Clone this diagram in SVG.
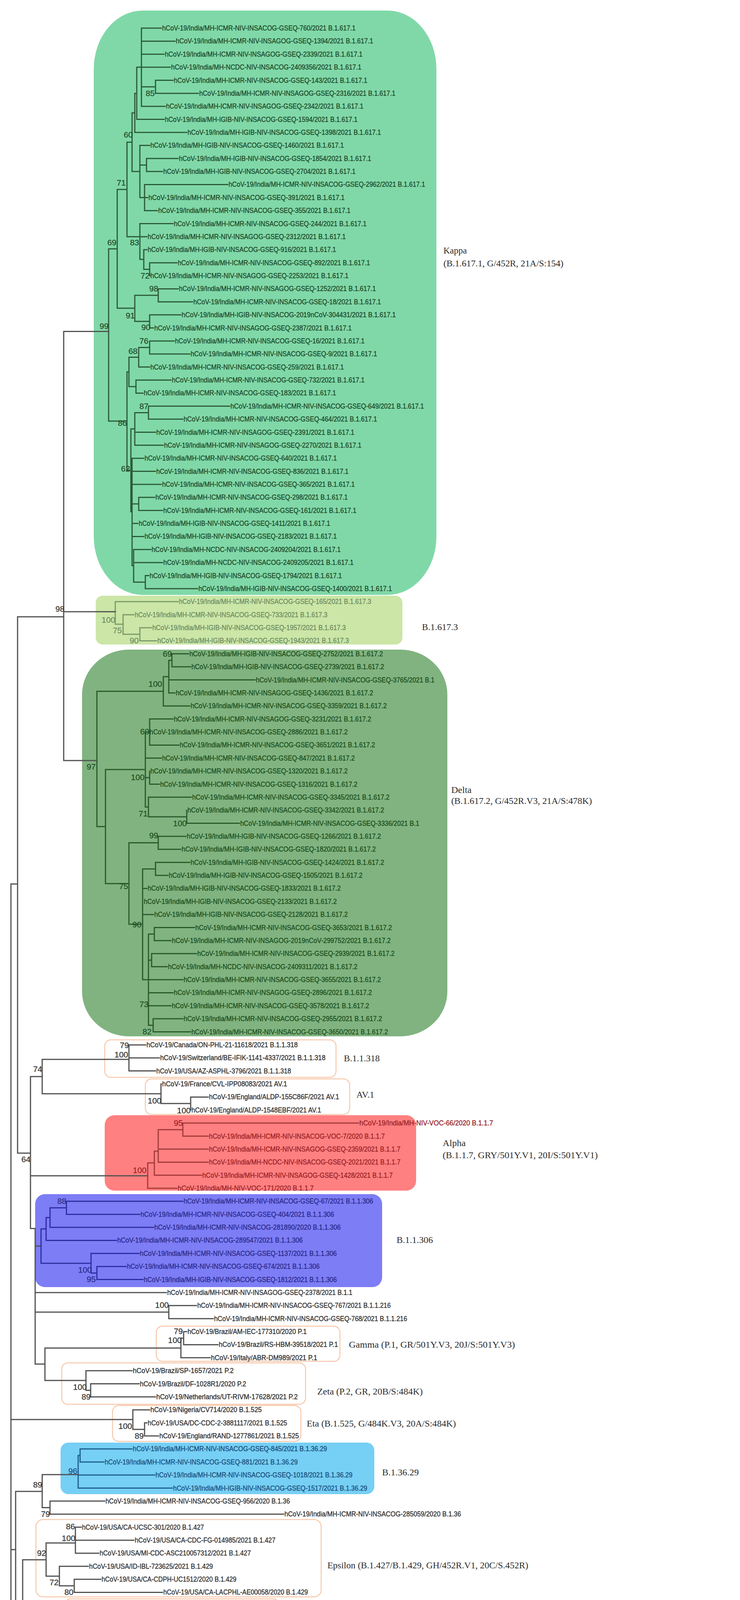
<svg xmlns="http://www.w3.org/2000/svg" width="1894" height="4640" viewBox="0 0 1894 4640">
<style>
text{font-family:'Liberation Sans',Arial,sans-serif}
.lf text{font-size:18px;stroke-width:0.45px}
.cl1 text{font-family:'Liberation Serif','Times New Roman',serif;font-size:23px;fill:#2b2b2b}
.bs{font-size:21px}
.bs text{stroke-width:0.3px}
.tk{fill:#1f4a2b;stroke:#1f4a2b}.t3{fill:#6f8d64;stroke:#6f8d64}.td{fill:#1d4f1d;stroke:#1d4f1d}.ta{fill:#9a2328;stroke:#9a2328}.tb{fill:#2b2b8a;stroke:#2b2b8a}.tc{fill:#1b4f7e;stroke:#1b4f7e}.to{fill:#333;stroke:#333}
path{fill:none;stroke-width:3;stroke-linecap:square}
.ol{stroke:#505050}.kl{stroke:#2c5a38}.gl{stroke:#7d9a6a}.dl{stroke:#2a5a2a}.al{stroke:#a33a3a}.bl{stroke:#2e2ea0}.cyl{stroke:#1e5f8e}
.ob{fill:none;stroke:#f7c8ab;stroke-width:2.5}
</style>
<rect width="1894" height="4640" fill="#fff"/>
<g id="clade-boxes">
<rect id="box-kappa" x="240" y="27" width="877" height="1496" rx="125" ry="150" fill="#80d8a8"/>
<rect id="box-b16173" x="245" y="1525" width="785" height="125" rx="18" fill="#cbe6a6"/>
<rect id="box-delta" x="210" y="1663" width="935" height="990" rx="120" ry="115" fill="#80b380"/>
<rect id="box-b11318" class="ob" x="268" y="2662" width="592" height="96" rx="16"/>
<rect id="box-av1" class="ob" x="372" y="2762" width="523" height="91" rx="16"/>
<rect id="box-alpha" x="268" y="2855" width="797" height="193" rx="25" fill="#ff8080"/>
<rect id="box-b11306" x="90" y="3057" width="888" height="238" rx="25" fill="#7d7df6"/>
<rect id="box-gamma" class="ob" x="400" y="3395" width="470" height="90" rx="16"/>
<rect id="box-zeta" class="ob" x="158" y="3489" width="624" height="106" rx="16"/>
<rect id="box-eta" class="ob" x="288" y="3598" width="482" height="92" rx="16"/>
<rect id="box-b13629" x="155" y="3693" width="803" height="132" rx="20" fill="#76cff4"/>
<rect id="box-epsilon" class="ob" x="92" y="3890" width="730" height="198" rx="18"/>
<rect id="box-beta" class="ob" x="165" y="4093" width="550" height="97" rx="16"/>
<rect id="box-iota" class="ob" x="98" y="4193" width="710" height="300" rx="18"/>
</g>
<g id="connectors">
<path class="kl" d="M362 72V272.2M362 72H413M362 105.4H448M362 138.7H420M362 172.1H436M362 272.2H423M362 222.2H398M398 205.5V238.9M398 205.5H443M398 238.9H508M350 172.1V305.6M350 172.1H362M350 305.6H420M345 238.9V339M345 238.9H350M345 339H478M375 405.7V439.1M375 405.7H456M375 439.1H416M370 472.4V539.2M370 472.4H583M370 505.8H378M370 539.2H403M358 372.3V505.8M358 372.3H383M358 422.4H375M358 505.8H370M338 289V439.1M338 289H345M338 439.1H358M325 364V605.9M325 364H338M325 605.9H358M358 572.6V664M358 572.6H443M358 605.9H376M358 664H368M368 639.3V689.4M368 639.3H376M368 689.4H383M383 672.7V706M383 672.7H453M383 706H384M300 485V789M300 485H325M300 789H345M345 756.1V822.8M345 756.1H405M345 822.8H383M405 739.4V772.8M405 739.4H456M405 772.8H493M383 806.1V839.5M383 806.1H463M383 839.5H393M278 637V1078M278 637H300M278 1078H325M325 952V1204M325 952H330M325 1204H335M330 914.6V989.7M330 914.6H355M330 989.7H348M355 889.6V939.6M355 889.6H383M355 939.6H383M383 872.9V906.3M383 872.9H446M383 906.3H486M348 973V1006.4M348 973H438M348 1006.4H366M335 1098V1310M335 1098H345M335 1310H338M345 1056.4V1139.8M345 1056.4H380M345 1106.5H398M345 1139.8H418M380 1039.7V1073.1M380 1039.7H588M380 1073.1H468M338 1173.2V1448M338 1173.2H368M338 1206.6H398M338 1240H413M338 1290H355M338 1340.1H353M338 1373.4H368M338 1448H342M355 1273.3V1306.7M355 1273.3H396M355 1306.7H416M342 1406.8V1490.2M342 1406.8H386M342 1440.2H416M342 1490.2H372M372 1473.5V1506.9M372 1473.5H381M372 1506.9H506"/>
<path class="gl" d="M295 1540.3V1598M295 1540.3H456M295 1598H315M315 1573.7V1623.7M315 1573.7H343M315 1623.7H358M358 1607V1640.4M358 1607H388M358 1640.4H401"/>
<path class="dl" d="M440 1673.8V1707.1M440 1673.8H483M440 1707.1H488M432 1690.5V1773.9M432 1690.5H440M432 1740.5H653M432 1773.9H448M418 1732.2V1807.3M418 1732.2H432M418 1807.3H486M248 1769.7V2116M248 1769.7H418M248 2116H270M372 1874V2065.9M372 1874H383M372 1940.7H413M372 1990.8H383M372 2065.9H380M383 1840.6V1907.4M383 1840.6H443M383 1907.4H458M383 1974.1V2007.5M383 2007.5H408M380 2040.8V2090.9M380 2040.8H490M380 2090.9H478M478 2074.2V2107.6M478 2107.6H613M270 1970V2262M270 1970H372M270 2262H330M330 2157.6V2366M330 2157.6H405M330 2366H365M405 2141V2174.3M405 2141H476M405 2174.3H463M365 2224.4V2508M365 2224.4H398M365 2274.4H376M365 2341.2H393M365 2508H380M398 2207.7V2241.1M398 2207.7H486M398 2241.1H430M380 2391.2V2624.8M380 2391.2H395M380 2458H388M380 2508H468M380 2541.4H443M380 2574.8H438M380 2624.8H392M395 2374.5V2407.9M395 2374.5H498M395 2407.9H438M388 2441.3V2474.7M388 2441.3H503M388 2474.7H428M392 2608.1V2641.5M392 2608.1H468M392 2641.5H488"/>
<path class="ol" d="M163 848.5H278M163 848.5V1947M163 1566H295M163 1947H248M45 1579H163M45 1579V2952M28 2263H45M28 2263V4510.2M28 4510.2H95M330 2674.9V2741.6M330 2674.9H373M330 2708.2H408M330 2741.6H398M108 2712H330M488 2808.4V2841.7M488 2808.4H533M412 2775V2825M412 2775H413M412 2825H488M108 2800H412M108 2712V2800M78 2756H108M78 2756V3145M45 2952H78M78 3010H378M78 3145H90M90 3145V3492M90 3190H105M90 3308.9H426M432 3342.3V3375.7M432 3342.3H503M432 3375.7H546M90 3359H432M470 3409V3442.4M470 3409H478M470 3442.4H558M463 3425.7H470M463 3425.7V3475.8M463 3475.8H538M115 3451H463M232 3542.5V3575.9M232 3542.5H356M232 3575.9H398M220 3559.2H232M220 3509.1V3559.2M220 3509.1H338M115 3534H220M115 3451V3534M90 3492H115M370 3642.6V3676M370 3642.6H376M370 3676H406M340 3659.3H370M340 3609.2V3659.3M340 3609.2H383M28 3634H340M108 3775H200M128 3842.8V3876.2M128 3842.8H268M128 3876.2H726M108 3859.5H128M108 3775V3859.5M40 3818H108M193 3909.6V3976.3M193 3909.6H208M193 3942.9H343M193 3976.3H253M118 3950H193M190 4043V4076.4M190 4043H258M190 4076.4H416M152 4059.7H190M152 4009.7V4059.7M152 4009.7H226M118 4035H152M118 3950V4035M58 3993H118M305 4109.8V4143.2M305 4109.8H368M305 4143.2H348M225 4126.5H305M225 4126.5V4176.5M225 4176.5H341M75 4152H225M228 4209.9V4276.6M228 4209.9H323M228 4243.3H338M228 4276.6H308M130 4250H228M315 4310V4376.7M315 4310H343M315 4343.4H388M315 4376.7H343M208 4350H315M290 4443.5V4476.9M290 4443.5H398M290 4476.9H303M262 4462H290M262 4410.1V4462M262 4410.1H266M208 4435H262M208 4350V4435M130 4395H208M130 4250V4395M75 4322H130M75 4152V4322M58 4237H75M58 3993V4237M40 4116H58M40 3818V4116M28 3967H40"/>
<path class="al" d="M468 2875.1V2908.5M468 2875.1H918M468 2908.5H533M405 2892V2975.2M405 2892H468M405 2941.8H533M405 2975.2H533M395 2947V3008.6M395 2947H405M395 3008.6H516M378 2977V3042M378 2977H395M378 3042H453"/>
<path class="bl" d="M170 3075.3V3108.7M170 3075.3H468M170 3108.7H358M128 3092V3142.1M128 3092H170M128 3142.1H393M118 3117V3175.4M118 3117H128M118 3175.4H298M248 3242.2V3275.5M248 3242.2H323M248 3275.5H366M233 3208.8V3259M233 3208.8H356M233 3259H248M105 3146V3234M105 3146H118M105 3234H233"/>
<path class="cyl" d="M205 3709.3V3742.7M205 3709.3H338M205 3742.7H266M200 3726V3809.5M200 3726H205M200 3776.1H396M200 3809.5H441"/>
<path id="scale-bar" class="ol" d="M108 4552V4572M108 4562H195M195 4552V4572"/>
</g>
<g id="clade-kappa" class="lf tk">
<g id="n1"><text x="415" y="78" textLength="495" lengthAdjust="spacingAndGlyphs">hCoV-19/India/MH-ICMR-NIV-INSACOG-GSEQ-760/2021 B.1.617.1</text></g>
<g id="n2"><text x="450" y="111.4" textLength="505" lengthAdjust="spacingAndGlyphs">hCoV-19/India/MH-ICMR-NIV-INSAGOG-GSEQ-1394/2021 B.1.617.1</text></g>
<g id="n3"><text x="422" y="144.7" textLength="506" lengthAdjust="spacingAndGlyphs">hCoV-19/India/MH-ICMR-NIV-INSAGOG-GSEQ-2339/2021 B.1.617.1</text></g>
<g id="n4"><text x="438" y="178.1" textLength="487" lengthAdjust="spacingAndGlyphs">hCoV-19/India/MH-NCDC-NIV-INSACOG-2409356/2021 B.1.617.1</text></g>
<g id="n5"><text x="445" y="211.5" textLength="495" lengthAdjust="spacingAndGlyphs">hCoV-19/India/MH-ICMR-NIV-INSACOG-GSEQ-143/2021 B.1.617.1</text></g>
<g id="n6"><text x="510" y="244.9" textLength="502" lengthAdjust="spacingAndGlyphs">hCoV-19/India/MH-ICMR-NIV-INSAGOG-GSEQ-2316/2021 B.1.617.1</text></g>
<g id="n7"><text x="425" y="278.2" textLength="505" lengthAdjust="spacingAndGlyphs">hCoV-19/India/MH-ICMR-NIV-INSAGOG-GSEQ-2342/2021 B.1.617.1</text></g>
<g id="n8"><text x="422" y="311.6" textLength="493" lengthAdjust="spacingAndGlyphs">hCoV-19/India/MH-IGIB-NIV-INSACOG-GSEQ-1594/2021 B.1.617.1</text></g>
<g id="n9"><text x="480" y="345" textLength="495" lengthAdjust="spacingAndGlyphs">hCoV-19/India/MH-IGIB-NIV-INSACOG-GSEQ-1398/2021 B.1.617.1</text></g>
<g id="n10"><text x="385" y="378.3" textLength="495" lengthAdjust="spacingAndGlyphs">hCoV-19/India/MH-IGIB-NIV-INSACOG-GSEQ-1460/2021 B.1.617.1</text></g>
<g id="n11"><text x="458" y="411.7" textLength="492" lengthAdjust="spacingAndGlyphs">hCoV-19/India/MH-IGIB-NIV-INSACOG-GSEQ-1854/2021 B.1.617.1</text></g>
<g id="n12"><text x="418" y="445.1" textLength="492" lengthAdjust="spacingAndGlyphs">hCoV-19/India/MH-IGIB-NIV-INSACOG-GSEQ-2704/2021 B.1.617.1</text></g>
<g id="n13"><text x="585" y="478.4" textLength="503" lengthAdjust="spacingAndGlyphs">hCoV-19/India/MH-ICMR-NIV-INSACOG-GSEQ-2962/2021 B.1.617.1</text></g>
<g id="n14"><text x="380" y="511.8" textLength="502" lengthAdjust="spacingAndGlyphs">hCoV-19/India/MH-ICMR-NIV-INSACOG-GSEQ-391/2021 B.1.617.1</text></g>
<g id="n15"><text x="405" y="545.2" textLength="492" lengthAdjust="spacingAndGlyphs">hCoV-19/India/MH-ICMR-NIV-INSACOG-GSEQ-355/2021 B.1.617.1</text></g>
<g id="n16"><text x="445" y="578.6" textLength="493" lengthAdjust="spacingAndGlyphs">hCoV-19/India/MH-ICMR-NIV-INSACOG-GSEQ-244/2021 B.1.617.1</text></g>
<g id="n17"><text x="378" y="611.9" textLength="507" lengthAdjust="spacingAndGlyphs">hCoV-19/India/MH-ICMR-NIV-INSAGOG-GSEQ-2312/2021 B.1.617.1</text></g>
<g id="n18"><text x="378" y="645.3" textLength="482" lengthAdjust="spacingAndGlyphs">hCoV-19/India/MH-IGIB-NIV-INSACOG-GSEQ-916/2021 B.1.617.1</text></g>
<g id="n19"><text x="455" y="678.7" textLength="492" lengthAdjust="spacingAndGlyphs">hCoV-19/India/MH-ICMR-NIV-INSACOG-GSEQ-892/2021 B.1.617.1</text></g>
<g id="n20"><text x="385" y="712" textLength="507" lengthAdjust="spacingAndGlyphs">hCoV-19/India/MH-ICMR-NIV-INSAGOG-GSEQ-2253/2021 B.1.617.1</text></g>
<g id="n21"><text x="458" y="745.4" textLength="504" lengthAdjust="spacingAndGlyphs">hCoV-19/India/MH-ICMR-NIV-INSAGOG-GSEQ-1252/2021 B.1.617.1</text></g>
<g id="n22"><text x="495" y="778.8" textLength="480" lengthAdjust="spacingAndGlyphs">hCoV-19/India/MH-ICMR-NIV-INSACOG-GSEQ-18/2021 B.1.617.1</text></g>
<g id="n23"><text x="465" y="812.1" textLength="548" lengthAdjust="spacingAndGlyphs">hCoV-19/India/MH-IGIB-NIV-INSACOG-2019nCoV-304431/2021 B.1.617.1</text></g>
<g id="n24"><text x="395" y="845.5" textLength="505" lengthAdjust="spacingAndGlyphs">hCoV-19/India/MH-ICMR-NIV-INSAGOG-GSEQ-2387/2021 B.1.617.1</text></g>
<g id="n25"><text x="448" y="878.9" textLength="485" lengthAdjust="spacingAndGlyphs">hCoV-19/India/MH-ICMR-NIV-INSACOG-GSEQ-16/2021 B.1.617.1</text></g>
<g id="n26"><text x="488" y="912.3" textLength="477" lengthAdjust="spacingAndGlyphs">hCoV-19/India/MH-ICMR-NIV-INSACOG-GSEQ-9/2021 B.1.617.1</text></g>
<g id="n27"><text x="385" y="945.6" textLength="495" lengthAdjust="spacingAndGlyphs">hCoV-19/India/MH-ICMR-NIV-INSACOG-GSEQ-259/2021 B.1.617.1</text></g>
<g id="n28"><text x="440" y="979" textLength="493" lengthAdjust="spacingAndGlyphs">hCoV-19/India/MH-ICMR-NIV-INSACOG-GSEQ-732/2021 B.1.617.1</text></g>
<g id="n29"><text x="368" y="1012.4" textLength="492" lengthAdjust="spacingAndGlyphs">hCoV-19/India/MH-ICMR-NIV-INSACOG-GSEQ-183/2021 B.1.617.1</text></g>
<g id="n30"><text x="590" y="1045.7" textLength="495" lengthAdjust="spacingAndGlyphs">hCoV-19/India/MH-ICMR-NIV-INSACOG-GSEQ-649/2021 B.1.617.1</text></g>
<g id="n31"><text x="470" y="1079.1" textLength="495" lengthAdjust="spacingAndGlyphs">hCoV-19/India/MH-ICMR-NIV-INSACOG-GSEQ-464/2021 B.1.617.1</text></g>
<g id="n32"><text x="400" y="1112.5" textLength="507" lengthAdjust="spacingAndGlyphs">hCoV-19/India/MH-ICMR-NIV-INSAGOG-GSEQ-2391/2021 B.1.617.1</text></g>
<g id="n33"><text x="420" y="1145.8" textLength="505" lengthAdjust="spacingAndGlyphs">hCoV-19/India/MH-ICMR-NIV-INSAGOG-GSEQ-2270/2021 B.1.617.1</text></g>
<g id="n34"><text x="370" y="1179.2" textLength="492" lengthAdjust="spacingAndGlyphs">hCoV-19/India/MH-ICMR-NIV-INSACOG-GSEQ-640/2021 B.1.617.1</text></g>
<g id="n35"><text x="400" y="1212.6" textLength="492" lengthAdjust="spacingAndGlyphs">hCoV-19/India/MH-ICMR-NIV-INSACOG-GSEQ-836/2021 B.1.617.1</text></g>
<g id="n36"><text x="415" y="1246" textLength="493" lengthAdjust="spacingAndGlyphs">hCoV-19/India/MH-ICMR-NIV-INSACOG-GSEQ-365/2021 B.1.617.1</text></g>
<g id="n37"><text x="398" y="1279.3" textLength="492" lengthAdjust="spacingAndGlyphs">hCoV-19/India/MH-ICMR-NIV-INSACOG-GSEQ-298/2021 B.1.617.1</text></g>
<g id="n38"><text x="418" y="1312.7" textLength="494" lengthAdjust="spacingAndGlyphs">hCoV-19/India/MH-ICMR-NIV-INSACOG-GSEQ-161/2021 B.1.617.1</text></g>
<g id="n39"><text x="355" y="1346.1" textLength="490" lengthAdjust="spacingAndGlyphs">hCoV-19/India/MH-IGIB-NIV-INSACOG-GSEQ-1411/2021 B.1.617.1</text></g>
<g id="n40"><text x="370" y="1379.4" textLength="492" lengthAdjust="spacingAndGlyphs">hCoV-19/India/MH-IGIB-NIV-INSACOG-GSEQ-2183/2021 B.1.617.1</text></g>
<g id="n41"><text x="388" y="1412.8" textLength="484" lengthAdjust="spacingAndGlyphs">hCoV-19/India/MH-NCDC-NIV-INSACOG-2409204/2021 B.1.617.1</text></g>
<g id="n42"><text x="418" y="1446.2" textLength="487" lengthAdjust="spacingAndGlyphs">hCoV-19/India/MH-NCDC-NIV-INSACOG-2409205/2021 B.1.617.1</text></g>
<g id="n43"><text x="383" y="1479.5" textLength="492" lengthAdjust="spacingAndGlyphs">hCoV-19/India/MH-IGIB-NIV-INSACOG-GSEQ-1794/2021 B.1.617.1</text></g>
<g id="n44"><text x="508" y="1512.9" textLength="495" lengthAdjust="spacingAndGlyphs">hCoV-19/India/MH-IGIB-NIV-INSACOG-GSEQ-1400/2021 B.1.617.1</text></g>
</g>
<g id="clade-b16173" class="lf t3">
<g id="n45"><text x="458" y="1546.3" textLength="492" lengthAdjust="spacingAndGlyphs">hCoV-19/India/MH-ICMR-NIV-INSACOG-GSEQ-165/2021 B.1.617.3</text></g>
<g id="n46"><text x="345" y="1579.7" textLength="493" lengthAdjust="spacingAndGlyphs">hCoV-19/India/MH-ICMR-NIV-INSACOG-GSEQ-733/2021 B.1.617.3</text></g>
<g id="n47"><text x="390" y="1613" textLength="495" lengthAdjust="spacingAndGlyphs">hCoV-19/India/MH-IGIB-NIV-INSACOG-GSEQ-1957/2021 B.1.617.3</text></g>
<g id="n48"><text x="403" y="1646.4" textLength="490" lengthAdjust="spacingAndGlyphs">hCoV-19/India/MH-IGIB-NIV-INSACOG-GSEQ-1943/2021 B.1.617.3</text></g>
</g>
<g id="clade-delta" class="lf td">
<g id="n49"><text x="485" y="1679.8" textLength="495" lengthAdjust="spacingAndGlyphs">hCoV-19/India/MH-IGIB-NIV-INSACOG-GSEQ-2752/2021 B.1.617.2</text></g>
<g id="n50"><text x="490" y="1713.1" textLength="493" lengthAdjust="spacingAndGlyphs">hCoV-19/India/MH-IGIB-NIV-INSACOG-GSEQ-2739/2021 B.1.617.2</text></g>
<g id="n51"><text x="655" y="1746.5" textLength="457" lengthAdjust="spacingAndGlyphs">hCoV-19/India/MH-ICMR-NIV-INSACOG-GSEQ-3765/2021 B.1</text></g>
<g id="n52"><text x="450" y="1779.9" textLength="505" lengthAdjust="spacingAndGlyphs">hCoV-19/India/MH-ICMR-NIV-INSAGOG-GSEQ-1436/2021 B.1.617.2</text></g>
<g id="n53"><text x="488" y="1813.3" textLength="502" lengthAdjust="spacingAndGlyphs">hCoV-19/India/MH-ICMR-NIV-INSACOG-GSEQ-3359/2021 B.1.617.2</text></g>
<g id="n54"><text x="445" y="1846.6" textLength="505" lengthAdjust="spacingAndGlyphs">hCoV-19/India/MH-ICMR-NIV-INSAGOG-GSEQ-3231/2021 B.1.617.2</text></g>
<g id="n55"><text x="383" y="1880" textLength="507" lengthAdjust="spacingAndGlyphs">hCoV-19/India/MH-ICMR-NIV-INSACOG-GSEQ-2886/2021 B.1.617.2</text></g>
<g id="n56"><text x="460" y="1913.4" textLength="500" lengthAdjust="spacingAndGlyphs">hCoV-19/India/MH-ICMR-NIV-INSACOG-GSEQ-3651/2021 B.1.617.2</text></g>
<g id="n57"><text x="415" y="1946.7" textLength="493" lengthAdjust="spacingAndGlyphs">hCoV-19/India/MH-ICMR-NIV-INSACOG-GSEQ-847/2021 B.1.617.2</text></g>
<g id="n58"><text x="385" y="1980.1" textLength="505" lengthAdjust="spacingAndGlyphs">hCoV-19/India/MH-ICMR-NIV-INSACOG-GSEQ-1320/2021 B.1.617.2</text></g>
<g id="n59"><text x="410" y="2013.5" textLength="505" lengthAdjust="spacingAndGlyphs">hCoV-19/India/MH-ICMR-NIV-INSACOG-GSEQ-1316/2021 B.1.617.2</text></g>
<g id="n60"><text x="492" y="2046.8" textLength="505" lengthAdjust="spacingAndGlyphs">hCoV-19/India/MH-ICMR-NIV-INSACOG-GSEQ-3345/2021 B.1.617.2</text></g>
<g id="n61"><text x="480" y="2080.2" textLength="503" lengthAdjust="spacingAndGlyphs">hCoV-19/India/MH-ICMR-NIV-INSACOG-GSEQ-3342/2021 B.1.617.2</text></g>
<g id="n62"><text x="615" y="2113.6" textLength="458" lengthAdjust="spacingAndGlyphs">hCoV-19/India/MH-ICMR-NIV-INSACOG-GSEQ-3336/2021 B.1</text></g>
<g id="n63"><text x="478" y="2147" textLength="497" lengthAdjust="spacingAndGlyphs">hCoV-19/India/MH-IGIB-NIV-INSACOG-GSEQ-1266/2021 B.1.617.2</text></g>
<g id="n64"><text x="465" y="2180.3" textLength="497" lengthAdjust="spacingAndGlyphs">hCoV-19/India/MH-IGIB-NIV-INSACOG-GSEQ-1820/2021 B.1.617.2</text></g>
<g id="n65"><text x="488" y="2213.7" textLength="495" lengthAdjust="spacingAndGlyphs">hCoV-19/India/MH-IGIB-NIV-INSACOG-GSEQ-1424/2021 B.1.617.2</text></g>
<g id="n66"><text x="432" y="2247.1" textLength="496" lengthAdjust="spacingAndGlyphs">hCoV-19/India/MH-IGIB-NIV-INSACOG-GSEQ-1505/2021 B.1.617.2</text></g>
<g id="n67"><text x="378" y="2280.4" textLength="494" lengthAdjust="spacingAndGlyphs">hCoV-19/India/MH-IGIB-NIV-INSACOG-GSEQ-1833/2021 B.1.617.2</text></g>
<g id="n68"><text x="368" y="2313.8" textLength="494" lengthAdjust="spacingAndGlyphs">hCoV-19/India/MH-IGIB-NIV-INSACOG-GSEQ-2133/2021 B.1.617.2</text></g>
<g id="n69"><text x="395" y="2347.2" textLength="495" lengthAdjust="spacingAndGlyphs">hCoV-19/India/MH-IGIB-NIV-INSACOG-GSEQ-2128/2021 B.1.617.2</text></g>
<g id="n70"><text x="500" y="2380.5" textLength="503" lengthAdjust="spacingAndGlyphs">hCoV-19/India/MH-ICMR-NIV-INSACOG-GSEQ-3653/2021 B.1.617.2</text></g>
<g id="n71"><text x="440" y="2413.9" textLength="560" lengthAdjust="spacingAndGlyphs">hCoV-19/India/MH-ICMR-NIV-INSAGOG-2019nCoV-299752/2021 B.1.617.2</text></g>
<g id="n72"><text x="505" y="2447.3" textLength="505" lengthAdjust="spacingAndGlyphs">hCoV-19/India/MH-ICMR-NIV-INSACOG-GSEQ-2939/2021 B.1.617.2</text></g>
<g id="n73"><text x="430" y="2480.7" textLength="485" lengthAdjust="spacingAndGlyphs">hCoV-19/India/MH-NCDC-NIV-INSACOG-2409311/2021 B.1.617.2</text></g>
<g id="n74"><text x="470" y="2514" textLength="505" lengthAdjust="spacingAndGlyphs">hCoV-19/India/MH-ICMR-NIV-INSACOG-GSEQ-3655/2021 B.1.617.2</text></g>
<g id="n75"><text x="445" y="2547.4" textLength="507" lengthAdjust="spacingAndGlyphs">hCoV-19/India/MH-ICMR-NIV-INSAGOG-GSEQ-2896/2021 B.1.617.2</text></g>
<g id="n76"><text x="440" y="2580.8" textLength="505" lengthAdjust="spacingAndGlyphs">hCoV-19/India/MH-ICMR-NIV-INSACOG-GSEQ-3578/2021 B.1.617.2</text></g>
<g id="n77"><text x="470" y="2614.1" textLength="508" lengthAdjust="spacingAndGlyphs">hCoV-19/India/MH-ICMR-NIV-INSACOG-GSEQ-2955/2021 B.1.617.2</text></g>
<g id="n78"><text x="490" y="2647.5" textLength="503" lengthAdjust="spacingAndGlyphs">hCoV-19/India/MH-ICMR-NIV-INSACOG-GSEQ-3650/2021 B.1.617.2</text></g>
</g>
<g id="clade-b11318-av1" class="lf to">
<g id="n79"><text x="375" y="2680.9" textLength="387" lengthAdjust="spacingAndGlyphs">hCoV-19/Canada/ON-PHL-21-11618/2021 B.1.1.318</text></g>
<g id="n80"><text x="410" y="2714.2" textLength="423" lengthAdjust="spacingAndGlyphs">hCoV-19/Switzerland/BE-IFIK-1141-4337/2021 B.1.1.318</text></g>
<g id="n81"><text x="400" y="2747.6" textLength="345" lengthAdjust="spacingAndGlyphs">hCoV-19/USA/AZ-ASPHL-3796/2021 B.1.1.318</text></g>
<g id="n82"><text x="415" y="2781" textLength="320" lengthAdjust="spacingAndGlyphs">hCoV-19/France/CVL-IPP08083/2021 AV.1</text></g>
<g id="n83"><text x="535" y="2814.4" textLength="333" lengthAdjust="spacingAndGlyphs">hCoV-19/England/ALDP-155C86F/2021 AV.1</text></g>
<g id="n84"><text x="490" y="2847.7" textLength="332" lengthAdjust="spacingAndGlyphs">hCoV-19/England/ALDP-1548EBF/2021 AV.1</text></g>
</g>
<g id="clade-alpha" class="lf ta">
<g id="n85"><text x="920" y="2881.1" textLength="342" lengthAdjust="spacingAndGlyphs">hCoV-19/India/MH-NIV-VOC-66/2020 B.1.1.7</text></g>
<g id="n86"><text x="535" y="2914.5" textLength="450" lengthAdjust="spacingAndGlyphs">hCoV-19/India/MH-ICMR-NIV-INSACOG-VOC-7/2020 B.1.1.7</text></g>
<g id="n87"><text x="535" y="2947.8" textLength="490" lengthAdjust="spacingAndGlyphs">hCoV-19/India/MH-ICMR-NIV-INSAGOG-GSEQ-2359/2021 B.1.1.7</text></g>
<g id="n88"><text x="535" y="2981.2" textLength="490" lengthAdjust="spacingAndGlyphs">hCoV-19/India/MH-NCDC-NIV-INSACOG-GSEQ-2021/2021 B.1.1.7</text></g>
<g id="n89"><text x="518" y="3014.6" textLength="487" lengthAdjust="spacingAndGlyphs">hCoV-19/India/MH-ICMR-NIV-INSAGOG-GSEQ-1428/2021 B.1.1.7</text></g>
<g id="n90"><text x="455" y="3048" textLength="348" lengthAdjust="spacingAndGlyphs">hCoV-19/India/MH-NIV-VOC-171/2020 B.1.1.7</text></g>
</g>
<g id="clade-b11306" class="lf tb">
<g id="n91"><text x="470" y="3081.3" textLength="485" lengthAdjust="spacingAndGlyphs">hCoV-19/India/MH-ICMR-NIV-INSACOG-GSEQ-67/2021 B.1.1.306</text></g>
<g id="n92"><text x="360" y="3114.7" textLength="495" lengthAdjust="spacingAndGlyphs">hCoV-19/India/MH-ICMR-NIV-INSACOG-GSEQ-404/2021 B.1.1.306</text></g>
<g id="n93"><text x="395" y="3148.1" textLength="477" lengthAdjust="spacingAndGlyphs">hCoV-19/India/MH-ICMR-NIV-INSACOG-281890/2020 B.1.1.306</text></g>
<g id="n94"><text x="300" y="3181.4" textLength="475" lengthAdjust="spacingAndGlyphs">hCoV-19/India/MH-ICMR-NIV-INSACOG-289547/2021 B.1.1.306</text></g>
<g id="n95"><text x="358" y="3214.8" textLength="504" lengthAdjust="spacingAndGlyphs">hCoV-19/India/MH-ICMR-NIV-INSACOG-GSEQ-1137/2021 B.1.1.306</text></g>
<g id="n96"><text x="325" y="3248.2" textLength="493" lengthAdjust="spacingAndGlyphs">hCoV-19/India/MH-ICMR-NIV-INSACOG-GSEQ-674/2021 B.1.1.306</text></g>
<g id="n97"><text x="368" y="3281.5" textLength="494" lengthAdjust="spacingAndGlyphs">hCoV-19/India/MH-IGIB-NIV-INSACOG-GSEQ-1812/2021 B.1.1.306</text></g>
</g>
<g id="clade-others" class="lf to">
<g id="n98"><text x="428" y="3314.9" textLength="474" lengthAdjust="spacingAndGlyphs">hCoV-19/India/MH-ICMR-NIV-INSAGOG-GSEQ-2378/2021 B.1.1</text></g>
<g id="n99"><text x="505" y="3348.3" textLength="495" lengthAdjust="spacingAndGlyphs">hCoV-19/India/MH-ICMR-NIV-INSACOG-GSEQ-767/2021 B.1.1.216</text></g>
<g id="n100"><text x="548" y="3381.7" textLength="494" lengthAdjust="spacingAndGlyphs">hCoV-19/India/MH-ICMR-NIV-INSACOG-GSEQ-768/2021 B.1.1.216</text></g>
<g id="n101"><text x="480" y="3415" textLength="305" lengthAdjust="spacingAndGlyphs">hCoV-19/Brazil/AM-IEC-177310/2020 P.1</text></g>
<g id="n102"><text x="560" y="3448.4" textLength="305" lengthAdjust="spacingAndGlyphs">hCoV-19/Brazil/RS-HBM-39518/2021 P.1</text></g>
<g id="n103"><text x="540" y="3481.8" textLength="272" lengthAdjust="spacingAndGlyphs">hCoV-19/Italy/ABR-DM989/2021 P.1</text></g>
<g id="n104"><text x="340" y="3515.1" textLength="258" lengthAdjust="spacingAndGlyphs">hCoV-19/Brazil/SP-1657/2021 P.2</text></g>
<g id="n105"><text x="358" y="3548.5" textLength="272" lengthAdjust="spacingAndGlyphs">hCoV-19/Brazil/DF-1028R1/2020 P.2</text></g>
<g id="n106"><text x="400" y="3581.9" textLength="362" lengthAdjust="spacingAndGlyphs">hCoV-19/Netherlands/UT-RIVM-17628/2021 P.2</text></g>
<g id="n107"><text x="385" y="3615.2" textLength="285" lengthAdjust="spacingAndGlyphs">hCoV-19/Nigeria/CV714/2020 B.1.525</text></g>
<g id="n108"><text x="378" y="3648.6" textLength="357" lengthAdjust="spacingAndGlyphs">hCoV-19/USA/DC-CDC-2-3881117/2021 B.1.525</text></g>
<g id="n109"><text x="408" y="3682" textLength="357" lengthAdjust="spacingAndGlyphs">hCoV-19/England/RAND-1277861/2021 B.1.525</text></g>
</g>
<g id="clade-b13629" class="lf tc">
<g id="n110"><text x="340" y="3715.3" textLength="497" lengthAdjust="spacingAndGlyphs">hCoV-19/India/MH-ICMR-NIV-INSACOG-GSEQ-845/2021 B.1.36.29</text></g>
<g id="n111"><text x="268" y="3748.7" textLength="494" lengthAdjust="spacingAndGlyphs">hCoV-19/India/MH-ICMR-NIV-INSACOG-GSEQ-881/2021 B.1.36.29</text></g>
<g id="n112"><text x="398" y="3782.1" textLength="504" lengthAdjust="spacingAndGlyphs">hCoV-19/India/MH-ICMR-NIV-INSACOG-GSEQ-1018/2021 B.1.36.29</text></g>
<g id="n113"><text x="443" y="3815.5" textLength="497" lengthAdjust="spacingAndGlyphs">hCoV-19/India/MH-IGIB-NIV-INSACOG-GSEQ-1517/2021 B.1.36.29</text></g>
</g>
<g id="clade-lower" class="lf to">
<g id="n114"><text x="270" y="3848.8" textLength="472" lengthAdjust="spacingAndGlyphs">hCoV-19/India/MH-ICMR-NIV-INSACOG-GSEQ-956/2020 B.1.36</text></g>
<g id="n115"><text x="728" y="3882.2" textLength="452" lengthAdjust="spacingAndGlyphs">hCoV-19/India/MH-ICMR-NIV-INSACOG-285059/2020 B.1.36</text></g>
<g id="n116"><text x="210" y="3915.6" textLength="312" lengthAdjust="spacingAndGlyphs">hCoV-19/USA/CA-UCSC-301/2020 B.1.427</text></g>
<g id="n117"><text x="345" y="3948.9" textLength="360" lengthAdjust="spacingAndGlyphs">hCoV-19/USA/CA-CDC-FG-014985/2021 B.1.427</text></g>
<g id="n118"><text x="255" y="3982.3" textLength="387" lengthAdjust="spacingAndGlyphs">hCoV-19/USA/MI-CDC-ASC210057312/2021 B.1.427</text></g>
<g id="n119"><text x="228" y="4015.7" textLength="317" lengthAdjust="spacingAndGlyphs">hCoV-19/USA/ID-IBL-723625/2021 B.1.429</text></g>
<g id="n120"><text x="260" y="4049" textLength="345" lengthAdjust="spacingAndGlyphs">hCoV-19/USA/CA-CDPH-UC1512/2020 B.1.429</text></g>
<g id="n121"><text x="418" y="4082.4" textLength="370" lengthAdjust="spacingAndGlyphs">hCoV-19/USA/CA-LACPHL-AE00058/2020 B.1.429</text></g>
<g id="n122"><text x="370" y="4115.8" textLength="322" lengthAdjust="spacingAndGlyphs">hCoV-19/Austria/CeMM1952/2020 B.1.351</text></g>
<g id="n123"><text x="350" y="4149.2" textLength="335" lengthAdjust="spacingAndGlyphs">hCoV-19/South Africa/N00390/2020 B.1.351</text></g>
<g id="n124"><text x="343" y="4182.5" textLength="302" lengthAdjust="spacingAndGlyphs">hCoV-19/USA/IL-LCH-0479/2021 B.1.351</text></g>
<g id="n125"><text x="325" y="4215.9" textLength="440" lengthAdjust="spacingAndGlyphs">hCoV-19/USA/VA-CAV VASJN 00000186 01/2021 B.1.526.1</text></g>
<g id="n126"><text x="340" y="4249.3" textLength="325" lengthAdjust="spacingAndGlyphs">hCoV-19/USA/MD-HP03879/2021 B.1.526.1</text></g>
<g id="n127"><text x="310" y="4282.6" textLength="400" lengthAdjust="spacingAndGlyphs">hCoV-19/USA/NY-MSHSPSP-PV21126/2020 B.1.526.1</text></g>
<g id="n128"><text x="345" y="4316" textLength="343" lengthAdjust="spacingAndGlyphs">hCoV-19/USA/TX-UTA-000702/2021 B.1.526.2</text></g>
<g id="n129"><text x="390" y="4349.4" textLength="375" lengthAdjust="spacingAndGlyphs">hCoV-19/USA/NY-NYCPHL-004620/2020 B.1.526.2</text></g>
<g id="n130"><text x="345" y="4382.7" textLength="443" lengthAdjust="spacingAndGlyphs">hCoV-19/USA/NY-Wadsworth-21010681-01/2021 B.1.526.2</text></g>
<g id="n131"><text x="268" y="4416.1" textLength="430" lengthAdjust="spacingAndGlyphs">hCoV-19/USA/NY-Wadsworth-21006727-01/2020 B.1.526</text></g>
<g id="n132"><text x="400" y="4449.5" textLength="398" lengthAdjust="spacingAndGlyphs">hCoV-19/USA/NY-PRL-2021 0409 00309/2021 B.1.526</text></g>
<g id="n133"><text x="305" y="4482.9" textLength="360" lengthAdjust="spacingAndGlyphs">hCoV-19/USA/NY-NYCPHL-001443/2020 B.1.526</text></g>
<g id="n134"><text x="97" y="4516.2" textLength="198" lengthAdjust="spacingAndGlyphs">NC 045512 Wuhan-Hu-1B</text></g>
<g id="scale-label"><text x="151" y="4597" text-anchor="middle">0.0002</text></g>
</g>
<g id="bootstrap" class="bs" text-anchor="end">
<g class="tk"><text x="396" y="246">85</text><text x="340" y="352">60</text><text x="322" y="475">71</text><text x="356" y="628">83</text><text x="298" y="628">69</text><text x="383" y="713">72</text><text x="405" y="746">98</text><text x="345" y="815">91</text><text x="385" y="845">90</text><text x="278" y="842">99</text><text x="380" y="880">76</text><text x="352" y="906">68</text><text x="380" y="1047">87</text><text x="325" y="1090">86</text><text x="333" y="1207">62</text></g>
<g class="t3"><text x="295" y="1594">100</text><text x="312" y="1621">75</text><text x="355" y="1647">90</text></g>
<g class="td"><text x="440" y="1681">69</text><text x="415" y="1758">100</text><text x="382" y="1880">60</text><text x="245" y="1970">97</text><text x="370" y="1997">100</text><text x="378" y="2090">71</text><text x="478" y="2115">100</text><text x="405" y="2146">99</text><text x="328" y="2276">75</text><text x="362" y="2374">90</text><text x="380" y="2578">73</text><text x="388" y="2648">82</text></g>
<g class="ta"><text x="468" y="2882">95</text><text x="375" y="3003">100</text></g>
<g class="tb"><text x="170" y="3082">88</text><text x="235" y="3258">100</text><text x="245" y="3282">95</text></g>
<g class="tc"><text x="198" y="3773">96</text></g>
<g class="to"><text x="165" y="1566">98</text><text x="330" y="2683">79</text><text x="328" y="2707">100</text><text x="108" y="2744">74</text><text x="413" y="2825">100</text><text x="488" y="2850">100</text><text x="78" y="2975">64</text><text x="432" y="3348">100</text><text x="468" y="3415">79</text><text x="465" y="3438">100</text><text x="222" y="3558">100</text><text x="232" y="3583">89</text><text x="338" y="3658">100</text><text x="368" y="3683">89</text><text x="108" y="3808">89</text><text x="128" y="3883">79</text><text x="192" y="3915">86</text><text x="193" y="3945">100</text><text x="118" y="3983">92</text><text x="150" y="4058">72</text><text x="188" y="4083">80</text><text x="305" y="4118">96</text><text x="225" y="4145">100</text><text x="225" y="4245">90</text><text x="312" y="4315">69</text><text x="313" y="4340">100</text><text x="128" y="4346">86</text><text x="205" y="4415">99</text><text x="260" y="4458">100</text><text x="288" y="4483">80</text></g>
</g>
<g id="clade-labels" class="cl1">
<g id="lab-kappa"><text x="1135" y="649" textLength="60" lengthAdjust="spacingAndGlyphs">Kappa</text><text x="1135" y="682" textLength="307" lengthAdjust="spacingAndGlyphs">(B.1.617.1, G/452R, 21A/S:154)</text></g>
<g id="lab-b16173"><text x="1080" y="1613" textLength="92" lengthAdjust="spacingAndGlyphs">B.1.617.3</text></g>
<g id="lab-delta"><text x="1155" y="2030" textLength="52" lengthAdjust="spacingAndGlyphs">Delta</text><text x="1155" y="2058" textLength="360" lengthAdjust="spacingAndGlyphs">(B.1.617.2, G/452R.V3, 21A/S:478K)</text></g>
<g id="lab-b11318"><text x="880" y="2717" textLength="92" lengthAdjust="spacingAndGlyphs">B.1.1.318</text></g>
<g id="lab-av1"><text x="912" y="2810" textLength="46" lengthAdjust="spacingAndGlyphs">AV.1</text></g>
<g id="lab-alpha"><text x="1133" y="2934" textLength="59" lengthAdjust="spacingAndGlyphs">Alpha</text><text x="1133" y="2965" textLength="397" lengthAdjust="spacingAndGlyphs">(B.1.1.7, GRY/501Y.V1, 20I/S:501Y.V1)</text></g>
<g id="lab-b11306"><text x="1015" y="3182" textLength="93" lengthAdjust="spacingAndGlyphs">B.1.1.306</text></g>
<g id="lab-gamma"><text x="893" y="3450" textLength="425" lengthAdjust="spacingAndGlyphs">Gamma (P.1, GR/501Y.V3, 20J/S:501Y.V3)</text></g>
<g id="lab-zeta"><text x="812" y="3570" textLength="270" lengthAdjust="spacingAndGlyphs">Zeta (P.2, GR, 20B/S:484K)</text></g>
<g id="lab-eta"><text x="785" y="3652" textLength="382" lengthAdjust="spacingAndGlyphs">Eta (B.1.525, G/484K.V3, 20A/S:484K)</text></g>
<g id="lab-b13629"><text x="978" y="3777" textLength="94" lengthAdjust="spacingAndGlyphs">B.1.36.29</text></g>
<g id="lab-epsilon"><text x="838" y="4015" textLength="514" lengthAdjust="spacingAndGlyphs">Epsilon (B.1.427/B.1.429, GH/452R.V1, 20C/S.452R)</text></g>
<g id="lab-beta"><text x="727" y="4148" textLength="443" lengthAdjust="spacingAndGlyphs">Beta (B.1.351, GH/501Y.V2, 20H/S.501Y.V2)</text></g>
<g id="lab-iota"><text x="818" y="4398" textLength="307" lengthAdjust="spacingAndGlyphs">Iota (B.1.526, GH, 20C/S:484K)</text></g>
<g id="lab-reference"><text x="387" y="4525" textLength="95" lengthAdjust="spacingAndGlyphs">Reference</text></g>
</g>
</svg>
